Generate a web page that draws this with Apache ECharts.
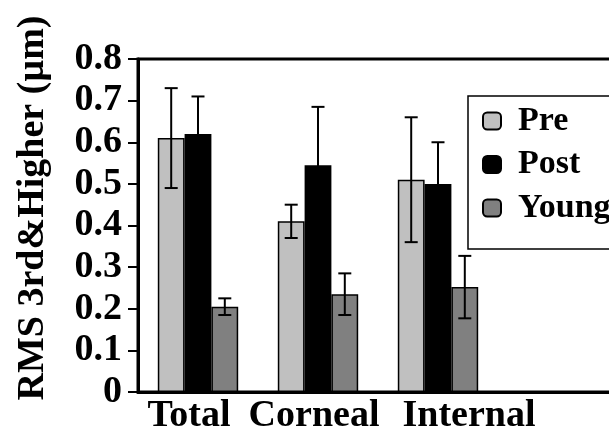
<!DOCTYPE html>
<html>
<head>
<meta charset="utf-8">
<script src="https://cdn.jsdelivr.net/npm/echarts@6/dist/echarts.min.js"></script>
<style>
  html, body { margin: 0; padding: 0; background: #fff; }
  #chart { width: 609px; height: 436px; }
</style>
</head>
<body>
<div id="chart"></div>
<script>
// Higher-order RMS wavefront error by component
const categories = ['Total', 'Corneal', 'Internal', ''];
const seriesNames = ['Pre', 'Post', 'Young'];
const preValues   = [0.61, 0.41, 0.51];
const postValues  = [0.62, 0.545, 0.50];
const youngValues = [0.205, 0.235, 0.252];
const preErrors   = [0.12, 0.04, 0.15];
const postErrors  = [0.09, 0.14, 0.10];
const youngErrors = [0.02, 0.05, 0.075];
const yTicks = [0, 0.1, 0.2, 0.3, 0.4, 0.5, 0.6, 0.7, 0.8];

const FONT = "'Liberation Serif', 'Times New Roman', serif";
const CATEGORY_GAP = 0.33;
const colors = ['#c0c0c0', '#000000', '#808080'];

const values = [preValues, postValues, youngValues];
const errors = [preErrors, postErrors, youngErrors];

// [category index, low, high, series index] for every whisker
const errData = [];
values.forEach((vals, s) => {
  vals.forEach((v, i) => {
    errData.push([i, v - errors[s][i], v + errors[s][i], s]);
  });
});

function renderErr(params, api) {
  const cat = api.value(0);
  const lo = api.value(1);
  const hi = api.value(2);
  const s = api.value(3);
  const band = api.size([1, 0])[0];
  const bw = band * (1 - CATEGORY_GAP) / 3;
  const cx = api.coord([cat, 0])[0] + (s - 1) * bw;
  const yLo = api.coord([cat, lo])[1];
  const yHi = api.coord([cat, hi])[1];
  const cap = 6.5;
  const style = { stroke: '#000', lineWidth: 2 };
  return {
    type: 'group',
    children: [
      { type: 'line', shape: { x1: cx, y1: yLo, x2: cx, y2: yHi }, style },
      { type: 'line', shape: { x1: cx - cap, y1: yHi, x2: cx + cap, y2: yHi }, style },
      { type: 'line', shape: { x1: cx - cap, y1: yLo, x2: cx + cap, y2: yLo }, style }
    ]
  };
}

const chart = echarts.init(document.getElementById('chart'), null, { renderer: 'canvas' });

const barSeries = seriesNames.map((name, s) => ({
  name: name,
  type: 'bar',
  data: values[s],
  barGap: '0%',
  barCategoryGap: (CATEGORY_GAP * 100) + '%',
  itemStyle: { color: colors[s], borderColor: '#000', borderWidth: 1.5 },
  emphasis: { disabled: true },
  animation: false
}));

// category labels sit as one run of text, slightly off their band centres
const labelRich = {
  t: { fontFamily: FONT, fontWeight: 'bold', fontSize: 38, color: '#000', padding: [0, 18, 0, 0] },
  c: { fontFamily: FONT, fontWeight: 'bold', fontSize: 38, color: '#000', padding: [0, 8, 0, 0] },
  i: { fontFamily: FONT, fontWeight: 'bold', fontSize: 38, color: '#000', padding: [0, 0, 0, 62] }
};
const labelKey = { Total: 't', Corneal: 'c', Internal: 'i' };

chart.setOption({
  animation: false,
  backgroundColor: '#fff',
  grid: {
    left: 138, top: 59, width: 480, height: 333,
    outerBoundsMode: 'none',
    containLabel: false,
    show: true, borderColor: '#000', borderWidth: 3, backgroundColor: 'transparent'
  },
  legend: {
    data: seriesNames,
    orient: 'vertical',
    left: 468, top: 96,
    padding: [8, 40, 24, 14],
    itemGap: 9.5,
    itemWidth: 18, itemHeight: 17,
    icon: 'roundRect',
    itemStyle: { borderColor: '#000', borderWidth: 2 },
    borderColor: '#000', borderWidth: 1.5,
    backgroundColor: '#fff',
    textStyle: {
      fontFamily: FONT, fontWeight: 'bold', fontSize: 34, lineHeight: 34,
      color: '#000', padding: [0, 0, 0, 12]
    },
    selectedMode: false
  },
  xAxis: {
    type: 'category',
    data: categories,
    axisLine: { lineStyle: { color: '#000', width: 3 } },
    axisTick: { show: false },
    axisLabel: {
      fontFamily: FONT, fontWeight: 'bold', fontSize: 38, color: '#000',
      margin: 5, interval: 0,
      formatter: v => (labelKey[v] ? '{' + labelKey[v] + '|' + v + '}' : ''),
      rich: labelRich
    },
    splitLine: { show: false }
  },
  yAxis: {
    type: 'value',
    min: yTicks[0], max: yTicks[yTicks.length - 1], interval: 0.1,
    axisLine: { show: true, lineStyle: { color: '#000', width: 3 } },
    axisTick: { show: true, length: 10, lineStyle: { color: '#000', width: 2 } },
    axisLabel: {
      fontFamily: FONT, fontWeight: 'bold', fontSize: 38, color: '#000', margin: 16,
      formatter: v => (v === 0 ? '0' : v.toFixed(1))
    },
    splitLine: { show: false }
  },
  graphic: [{
    type: 'text',
    x: 33, y: 208,
    rotation: Math.PI / 2,
    style: {
      text: 'RMS 3rd&Higher (µm)',
      fontFamily: FONT, fontWeight: 'bold', fontSize: 38, fill: '#000',
      textAlign: 'center', textVerticalAlign: 'middle'
    }
  }],
  series: barSeries.concat([{
    type: 'custom',
    name: 'err',
    renderItem: renderErr,
    data: errData,
    z: 5,
    silent: true,
    animation: false
  }])
});
</script>
</body>
</html>
